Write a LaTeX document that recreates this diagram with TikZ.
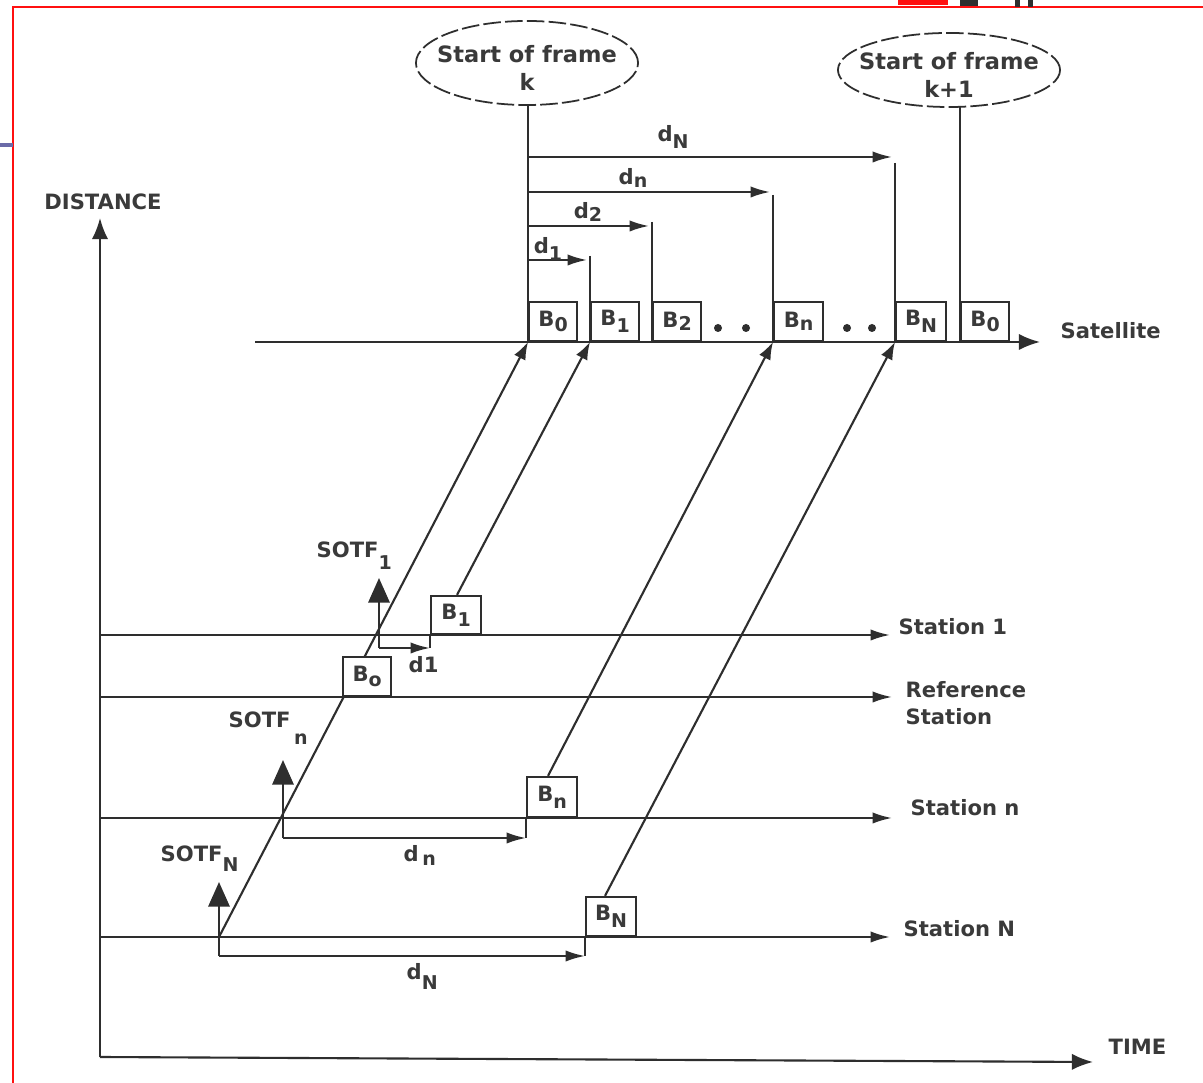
\documentclass[tikz,border=0pt]{standalone}
\usepackage{fontspec}
\setmainfont{DejaVu Sans}
\usetikzlibrary{arrows.meta,shapes.geometric}
\definecolor{ink}{HTML}{2E2E2E}
\definecolor{txt}{HTML}{3A3A3A}
\definecolor{framered}{HTML}{FF1010}
\definecolor{slate}{HTML}{6B6BA8}
\newcommand\lowsub[2][2pt]{\raisebox{-#1}{\fontsize{5.4}{6}\selectfont #2}}
\begin{document}
\begin{tikzpicture}[x=0.01cm,y=-0.01cm,
  ln/.style={draw=ink,line width=0.6pt},
  arr/.style={ln,-{Latex[length=5.5pt,width=3.2pt]}},
  slant/.style={ln,-{Latex[length=5pt,width=3.6pt]}},
  axarr/.style={ln,-{Latex[length=6pt,width=4.6pt]}},
  sotfarr/.style={ln,line width=0.8pt,-{Triangle[length=7pt,width=6pt]}},
  lbl/.style={font=\bfseries\fontsize{6}{7.8}\selectfont,text=txt,inner sep=0pt},
  elltxt/.style={font=\bfseries\fontsize{6.4}{8}\selectfont,text=txt,inner sep=0pt,align=center},
  ell/.style={draw=ink,line width=0.5pt,dash pattern=on 5pt off 1.2pt},
  slot/.style={draw=ink,line width=0.6pt,fill=white,minimum width=0.48cm,minimum height=0.39cm,
               anchor=south west,inner sep=0pt,font=\bfseries\fontsize{6}{7}\selectfont,text=txt},
  dotmark/.style={circle,fill=ink,minimum size=0.08cm,inner sep=0pt}
]
\useasboundingbox (0,0) rectangle (1203,1083);
\fill[white] (0,0) rectangle (1203,1083);

% page frame fragments
\draw[framered,line width=0.7pt] (13,1083) -- (13,7) -- (1203,7);
\draw[slate,line width=1.2pt] (0,145) -- (13,145);
\fill[framered] (898,0) rectangle (948,5);
\fill[ink] (960,0) rectangle (978,6);
\fill[ink] (1015,0) rectangle (1020,7);
\fill[ink] (1028,0) rectangle (1033,7);

% axes
\coordinate (orig) at (100,1057);
\coordinate (ytop) at (100,218);
\coordinate (xend) at (1093,1062);
\draw[axarr] (orig) -- (ytop);
\draw[axarr] (orig) -- (xend);
\node[lbl] (ldist) at (103,202) {DISTANCE};
\node[lbl,anchor=west] (ltime) at (1108,1047) {TIME};

% satellite line
\coordinate (satL) at (255,342);
\coordinate (satR) at (1040,342);
\draw[axarr] (satL) -- (satR);
\node[lbl,anchor=west] (lsat) at (1060,331) {Satellite};
\coordinate (s0) at (528,342);
\coordinate (s1) at (590,342);
\coordinate (s2) at (652,342);
\coordinate (sn) at (773,342);
\coordinate (sN) at (895,342);
\coordinate (sk) at (960,342);

% frame start ellipses
\node[elltxt] (ek) at (527,68) {Start of frame\\k};
\draw[ell] (527,63) ellipse [x radius=1.11cm, y radius=0.42cm];
\node[elltxt] (ek1) at (949,75) {Start of frame\\k+1};
\draw[ell] (949,70) ellipse [x radius=1.11cm, y radius=0.37cm];
\coordinate (ekb) at (528,105);
\coordinate (ek1b) at (960,106);
\draw[ln] (ekb) -- (s0);
\draw[ln] (ek1b) -- (sk);

% delay arrows at the satellite
\coordinate (kN) at (528,157);  \coordinate (eN) at (892,157);
\coordinate (kn) at (528,192);  \coordinate (en) at (770,192);
\coordinate (k2) at (528,226);  \coordinate (e2) at (649,226);
\coordinate (k1) at (528,260);  \coordinate (e1) at (587,260);
\draw[arr] (kN) -- (eN);
\draw[arr] (kn) -- (en);
\draw[arr] (k2) -- (e2);
\draw[arr] (k1) -- (e1);
\draw[ln] (895,163) -- (sN);
\draw[ln] (773,195) -- (sn);
\draw[ln] (652,222) -- (s2);
\draw[ln] (590,256) -- (s1);
\node[lbl] (ldN) at (673,137) {d\lowsub{N}};
\node[lbl] (ldn) at (633,178) {d\lowsub[1pt]{n}};
\node[lbl] (ld2) at (588,212) {d\lowsub[1pt]{2}};
\node[lbl] (ld1) at (548,249) {d\lowsub{1}};

% satellite bursts
\node[slot] (sb0) at (s0) {B\lowsub[1.5pt]{0}};
\node[slot] (sb1) at (s1) {B\lowsub{1}};
\node[slot] (sb2) at (s2) {B\lowsub[1pt]{2}};
\node[slot,minimum width=0.49cm] (sbn) at (sn) {B\lowsub[1pt]{n}};
\node[slot,minimum width=0.5cm] (sbN) at (sN) {B\lowsub{N}};
\node[slot] (sbk) at (sk) {B\lowsub[1.5pt]{0}};
\node[dotmark] (dt1) at (718,328) {};
\node[dotmark] (dt2) at (746,328) {};
\node[dotmark] (dt3) at (847,328) {};
\node[dotmark] (dt4) at (872,328) {};

% station lines
\coordinate (st1L) at (100,635);  \coordinate (st1R) at (890,635);
\coordinate (refL) at (100,697);  \coordinate (refR) at (892,697);
\coordinate (stnL) at (100,818);  \coordinate (stnR) at (892,818);
\coordinate (stNL) at (100,937);  \coordinate (stNR) at (890,937);
\draw[arr] (st1L) -- (st1R);
\draw[arr] (refL) -- (refR);
\draw[arr] (stnL) -- (stnR);
\draw[arr] (stNL) -- (stNR);
\node[lbl,anchor=west] (lst1) at (898,627) {Station 1};
\node[lbl,anchor=west,align=left] (lref) at (905,703) {Reference\\Station};
\node[lbl,anchor=west] (lstn) at (910,808) {Station n};
\node[lbl,anchor=west] (lstN) at (903,929) {Station N};

% reference burst path (drawn under the B_o box)
\coordinate (oN) at (219,937);
\draw[slant] (oN) -- (s0);

% station bursts
\node[slot] (bo) at (342,697) {B\lowsub[1.5pt]{o}};
\node[slot,minimum width=0.5cm,minimum height=0.38cm] (b1) at (430,635) {B\lowsub{1}};
\node[slot,minimum width=0.5cm,minimum height=0.4cm] (bn) at (526,818) {B\lowsub{n}};
\node[slot,minimum width=0.5cm] (bN) at (585,937) {B\lowsub{N}};

\draw[slant] ([xshift=0.27cm]b1.north west) -- (s1);
\draw[slant] ([xshift=0.22cm]bn.north west) -- (sn);
\draw[slant] ([xshift=0.2cm]bN.north west) -- (sN);

% SOTF markers and station delays
\coordinate (c1) at (379,648);  \coordinate (t1) at (379,578);
\coordinate (cn) at (283,838);  \coordinate (tn) at (283,760);
\coordinate (cN) at (219,956);  \coordinate (tN) at (219,882);
\draw[sotfarr] (c1) -- (t1);
\draw[sotfarr] (cn) -- (tn);
\draw[sotfarr] (cN) -- (tN);
\draw[arr] (c1) -- (b1.south west |- c1);
\draw[ln] (b1.south west |- c1) -- (b1.south west);
\draw[arr] (cn) -- (bn.south west |- cn);
\draw[ln] (bn.south west |- cn) -- (bn.south west);
\draw[arr] (cN) -- (bN.south west |- cN);
\draw[ln] (bN.south west |- cN) -- (bN.south west);

\node[lbl,anchor=base west] (sotf1) at (316,558) {SOTF\lowsub[3.4pt]{1}};
\node[lbl,anchor=base west] (sotfn) at (228,728) {SOTF\,\lowsub[4.8pt]{n}};
\node[lbl,anchor=base west] (sotfN) at (160,862) {SOTF\lowsub[2.8pt]{N}};
\node[lbl,anchor=base west] (ld1s) at (408,673) {d1};
\node[lbl,anchor=base west] (ldns) at (403,862) {d\,\lowsub[1pt]{n}};
\node[lbl,anchor=base west] (ldNs) at (406,980) {d\lowsub[2.8pt]{N}};
\end{tikzpicture}
\end{document}
